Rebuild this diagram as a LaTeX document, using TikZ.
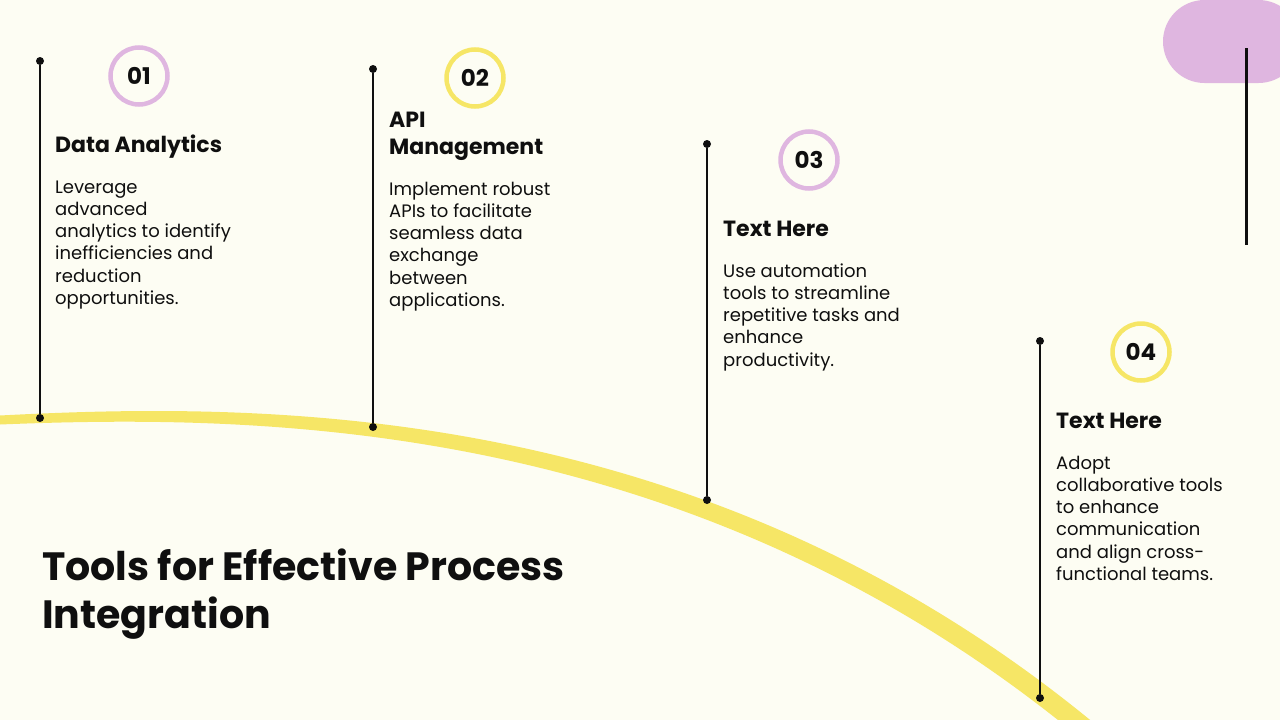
\documentclass[tikz,border=0pt]{standalone}
\usepackage{fontspec}
\setmainfont{Poppins}
\usetikzlibrary{positioning}
\definecolor{cream}{RGB}{253,253,243}
\definecolor{lav}{RGB}{223,182,224}
\definecolor{sun}{RGB}{246,230,102}
\definecolor{ink}{RGB}{15,15,15}

\begin{document}
\begin{tikzpicture}[x=1pt,y=-1pt,
  ring/.style={circle,draw=#1,line width=4.5pt,minimum size=57pt,inner sep=0pt,
    font=\fontsize{23}{23}\selectfont\bfseries,text=ink},
  head/.style={anchor=base west,align=left,inner sep=0pt,
    font=\fontsize{22}{27}\selectfont\bfseries,text=ink},
  body/.style={anchor=base west,align=left,inner sep=0pt,
    font=\fontsize{18}{22.3}\selectfont,text=ink},
  stem/.style={line width=1.6pt,draw=ink},
  dot/.style={circle,fill=ink,inner sep=0pt,minimum size=8pt}]
  \fill[cream] (0,0) rectangle (1280,720);
  \useasboundingbox (0,0) rectangle (1280,720);

  % yellow arc
  \fill[sun] (0,415.5) .. controls (260,402) and (700,398) .. (1095,724)
    -- (1063,724) .. controls (680,418) and (260,414) .. (0,424.5) -- cycle;

  % corner tab
  \fill[lav,rounded corners=41.5] (1300,0) -- (1163,0) -- (1163,83) -- (1300,83) -- cycle;
  \coordinate (ra) at (1246.5,48);
  \coordinate (rb) at (1246.5,245);
  \draw[line width=3pt,ink] (ra) -- (rb);

  % stems
  \node[dot] (t1) at (40,61) {};
  \node[dot] (b1) at (40,418) {};
  \node[dot] (t2) at (373,69) {};
  \node[dot] (b2) at (373,427) {};
  \node[dot] (t3) at (707,144) {};
  \node[dot] (b3) at (707,500) {};
  \node[dot] (t4) at (1040,341) {};
  \node[dot] (b4) at (1040,698) {};
  \draw[stem] (t1) -- (b1);
  \draw[stem] (t2) -- (b2);
  \draw[stem] (t3) -- (b3);
  \draw[stem] (t4) -- (b4);

  % numbers
  \node[ring=lav] (n1) at (139,76) {01};
  \node[ring=sun] (n2) at (475,78) {02};
  \node[ring=lav] (n3) at (809,160) {03};
  \node[ring=sun] (n4) at (1141,352) {04};

  % base = last line
  \node[head] (h1) at (55,152.5) {Data Analytics};
  \node[head] (h2) at (389,154.5) {API\\Management};
  \node[head] (h3) at (723,236.5) {Text Here};
  \node[head] (h4) at (1056,428.5) {Text Here};

  \node[body] (d1) at (55,304.5) {Leverage\\advanced\\analytics to identify\\inefficiencies and\\reduction\\opportunities.};
  \node[body] (d2) at (389,306.5) {Implement robust\\APIs to facilitate\\seamless data\\exchange\\between\\applications.};
  \node[body] (d3) at (723,366.2) {Use automation\\tools to streamline\\repetitive tasks and\\enhance\\productivity.};
  \node[body] (d4) at (1056,580.5) {Adopt\\collaborative tools\\to enhance\\communication\\and align cross-\\functional teams.};

  \node[anchor=base west,align=left,inner sep=0pt,text=ink,
    font=\fontsize{39.5}{48}\selectfont\bfseries] (title) at (42,628.5) {Tools for Effective Process\\Integration};
\end{tikzpicture}
\end{document}
